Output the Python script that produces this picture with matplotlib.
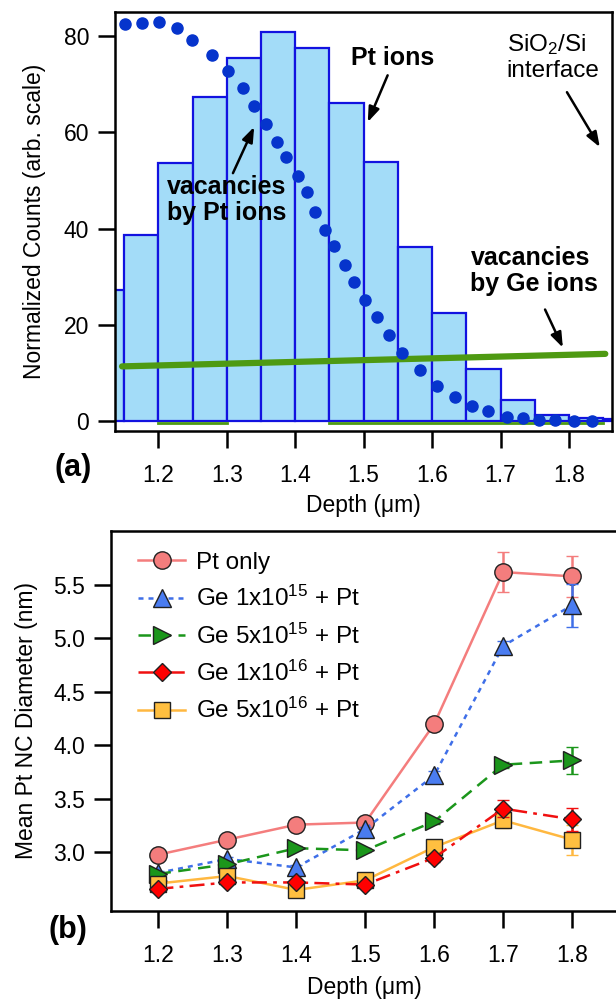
import matplotlib
import matplotlib.pyplot as plt

matplotlib.use("Agg")

plt.rcParams.update({
    "font.family": ["Liberation Sans", "DejaVu Sans"],
    "mathtext.fontset": "custom",
    "mathtext.rm": "Liberation Sans",
    "mathtext.it": "Liberation Sans:italic",
    "mathtext.bf": "Liberation Sans:bold",
    "axes.linewidth": 1.8,
    "xtick.major.width": 1.8,
    "ytick.major.width": 1.8,
    "xtick.major.size": 12.5,
    "ytick.major.size": 12.5,
    "xtick.labelsize": 16.5,
    "ytick.labelsize": 16.5,
    "axes.labelsize": 16.5,
})

# ---- panel (a): implanted Pt profile + vacancy profiles ----
bin_left = [1.10, 1.15, 1.20, 1.25, 1.30, 1.35, 1.40, 1.45,
            1.50, 1.55, 1.60, 1.65, 1.70, 1.75, 1.80, 1.85]
pt_counts = [27.2, 38.7, 53.6, 67.2, 75.5, 80.8, 77.4, 66.0,
             53.8, 36.1, 22.5, 10.9, 4.4, 1.4, 0.6, 0.4]

vac_pt_depth = [1.152, 1.176, 1.201, 1.227, 1.249, 1.278, 1.302, 1.323, 1.340,
                1.357, 1.373, 1.387, 1.404, 1.417, 1.429, 1.443, 1.457, 1.472,
                1.486, 1.502, 1.519, 1.537, 1.556, 1.582, 1.607, 1.633, 1.658,
                1.682, 1.709, 1.733, 1.756, 1.780, 1.808, 1.833]
vac_pt_value = [82.4, 82.7, 82.9, 81.6, 79.1, 76.0, 72.8, 69.1, 65.4,
                61.7, 58.0, 54.9, 51.0, 47.5, 43.5, 39.7, 36.3, 32.5,
                29.0, 25.2, 21.6, 18.0, 14.2, 10.7, 7.4, 5.0, 3.1,
                2.1, 0.9, 0.6, 0.3, 0.3, 0.1, 0.1]

vac_ge_depth = [1.147, 1.853]
vac_ge_value = [11.4, 14.0]

# ---- panel (b): mean NC diameter vs depth ----
depth = [1.2, 1.3, 1.4, 1.5, 1.6, 1.7, 1.8]
series = [
    ("Pt only", [2.98, 3.12, 3.26, 3.28, 4.20, 5.62, 5.58],
     [0.02, 0.02, 0.02, 0.02, 0.03, 0.19, 0.19]),
    ("Ge 1x10$^{15}$ + Pt", [2.81, 2.94, 2.86, 3.22, 3.72, 4.93, 5.31],
     [0.02, 0.02, 0.02, 0.02, 0.04, 0.05, 0.20]),
    ("Ge 5x10$^{15}$ + Pt", [2.80, 2.89, 3.04, 3.02, 3.29, 3.82, 3.86],
     [0.02, 0.02, 0.02, 0.02, 0.02, 0.03, 0.13]),
    ("Ge 1x10$^{16}$ + Pt", [2.66, 2.72, 2.72, 2.70, 2.95, 3.41, 3.31],
     [0.02, 0.02, 0.02, 0.02, 0.04, 0.08, 0.11]),
    ("Ge 5x10$^{16}$ + Pt", [2.71, 2.78, 2.65, 2.74, 3.05, 3.30, 3.12],
     [0.02, 0.02, 0.02, 0.02, 0.03, 0.07, 0.14]),
]
styles = [
    dict(color="#f47d7d", ls="-", marker="o", ms=12.5, mfc="#f47d7d", z=3),
    dict(color="#3f6fe8", ls=(0, (2, 2)), marker="^", ms=12.5, mfc="#4a7cf0", z=4),
    dict(color="#1b961b", ls=(0, (5, 3)), marker=">", ms=12.5, mfc="#1b961b", z=5),
    dict(color="#f01010", ls=(0, (6, 2.5, 1.5, 2.5)), marker="D", ms=9.5, mfc="#ff0000", z=7),
    dict(color="#ffb840", ls="-", marker="s", ms=11.5, mfc="#ffbf40", z=6),
]

fig = plt.figure(figsize=(6.16, 10.02), dpi=100)

# ------------------------------ (a) ------------------------------
ax = fig.add_axes([0.1867, 0.5699, 0.8068, 0.4184])
ax.bar(bin_left, pt_counts, width=0.05, align="edge", color="#a3dcf8",
       edgecolor="#1212e0", linewidth=1.6, zorder=1)
# green baseline bits peeking below the bars
ax.plot([1.2, 1.3], [-0.3, -0.3], color="#4e9a12", lw=2, zorder=1.5)
ax.plot([1.45, 1.85], [-0.3, -0.3], color="#4e9a12", lw=2, zorder=1.5)
ax.plot(vac_ge_depth, vac_ge_value, color="#4e9a12", lw=4.5,
        solid_capstyle="round", zorder=2)
ax.plot(vac_pt_depth, vac_pt_value, "o", color="#0634cc", ms=8, zorder=3)

ax.set_xlim(1.1367, 1.8628)
ax.set_ylim(-2.0, 85.0)
ax.set_xticks([1.2, 1.3, 1.4, 1.5, 1.6, 1.7, 1.8])
ax.set_yticks([0, 20, 40, 60, 80])
ax.tick_params(axis="y", pad=6)
ax.tick_params(axis="x", pad=11)
ax.set_xlabel("Depth (\u03bcm)", labelpad=5)
ax.set_ylabel("Normalized Counts (arb. scale)", labelpad=13)

arrow = dict(arrowstyle="-|>,head_length=0.9,head_width=0.33", color="black",
             lw=1.8, shrinkA=0, shrinkB=0)
bold = dict(fontsize=18, fontweight="bold", linespacing=1.1)

ax.text(1.5426, 75.4, "Pt ions", ha="center", va="center", **bold)
ax.annotate("", xy=(1.506, 62.1), xytext=(1.535, 71.8), arrowprops=arrow)

ax.text(1.212, 45.9, "vacancies\nby Pt ions", ha="left", va="center", **bold)
ax.annotate("", xy=(1.340, 61.1), xytext=(1.309, 51.5), arrowprops=arrow)

ax.text(1.656, 31.2, "vacancies\nby Ge ions", ha="left", va="center", **bold)
ax.annotate("", xy=(1.791, 15.3), xytext=(1.765, 23.2), arrowprops=arrow)

ax.text(1.709, 75.6, "SiO$_2$/Si\ninterface", ha="left", va="center",
        fontsize=17.5, linespacing=1.15)
ax.annotate("", xy=(1.845, 56.9), xytext=(1.797, 68.3), arrowprops=arrow)

fig.text(73 / 616, 1 - 468 / 1002, "(a)", fontsize=22, fontweight="bold",
         ha="center", va="center")

# ------------------------------ (b) ------------------------------
bx = fig.add_axes([0.1802, 0.0908, 0.8230, 0.3796])
handles = []
for (label, vals, err), st in zip(series, styles):
    cont = bx.errorbar(depth, vals, yerr=err, color=st["color"], ls=st["ls"],
                       lw=1.8, marker=st["marker"], ms=st["ms"],
                       mfc=st["mfc"], mec="#202020", mew=1.0,
                       ecolor=st["color"], elinewidth=1.8, capsize=4.5,
                       capthick=1.8, zorder=st["z"], label=label)
    handles.append(cont.lines[0])

bx.set_xlim(1.1312, 1.8666)
bx.set_ylim(2.453, 6.007)
bx.set_xticks([1.2, 1.3, 1.4, 1.5, 1.6, 1.7, 1.8])
bx.set_yticks([3.0, 3.5, 4.0, 4.5, 5.0, 5.5])
bx.tick_params(axis="y", pad=6)
bx.tick_params(axis="x", pad=11)
bx.set_xlabel("Depth (\u03bcm)", labelpad=7)
bx.set_ylabel("Mean Pt NC Diameter (nm)", labelpad=11)
bx.legend(handles=handles, labels=[s[0] for s in series], loc="upper left",
          bbox_to_anchor=(0.035, 0.97), frameon=False, fontsize=17.5,
          handlelength=1.9, handletextpad=0.45, labelspacing=0.5,
          borderaxespad=0)

fig.text(68 / 616, 1 - 930 / 1002, "(b)", fontsize=22, fontweight="bold",
         ha="center", va="center")

fig.savefig("out.png", dpi=100)
